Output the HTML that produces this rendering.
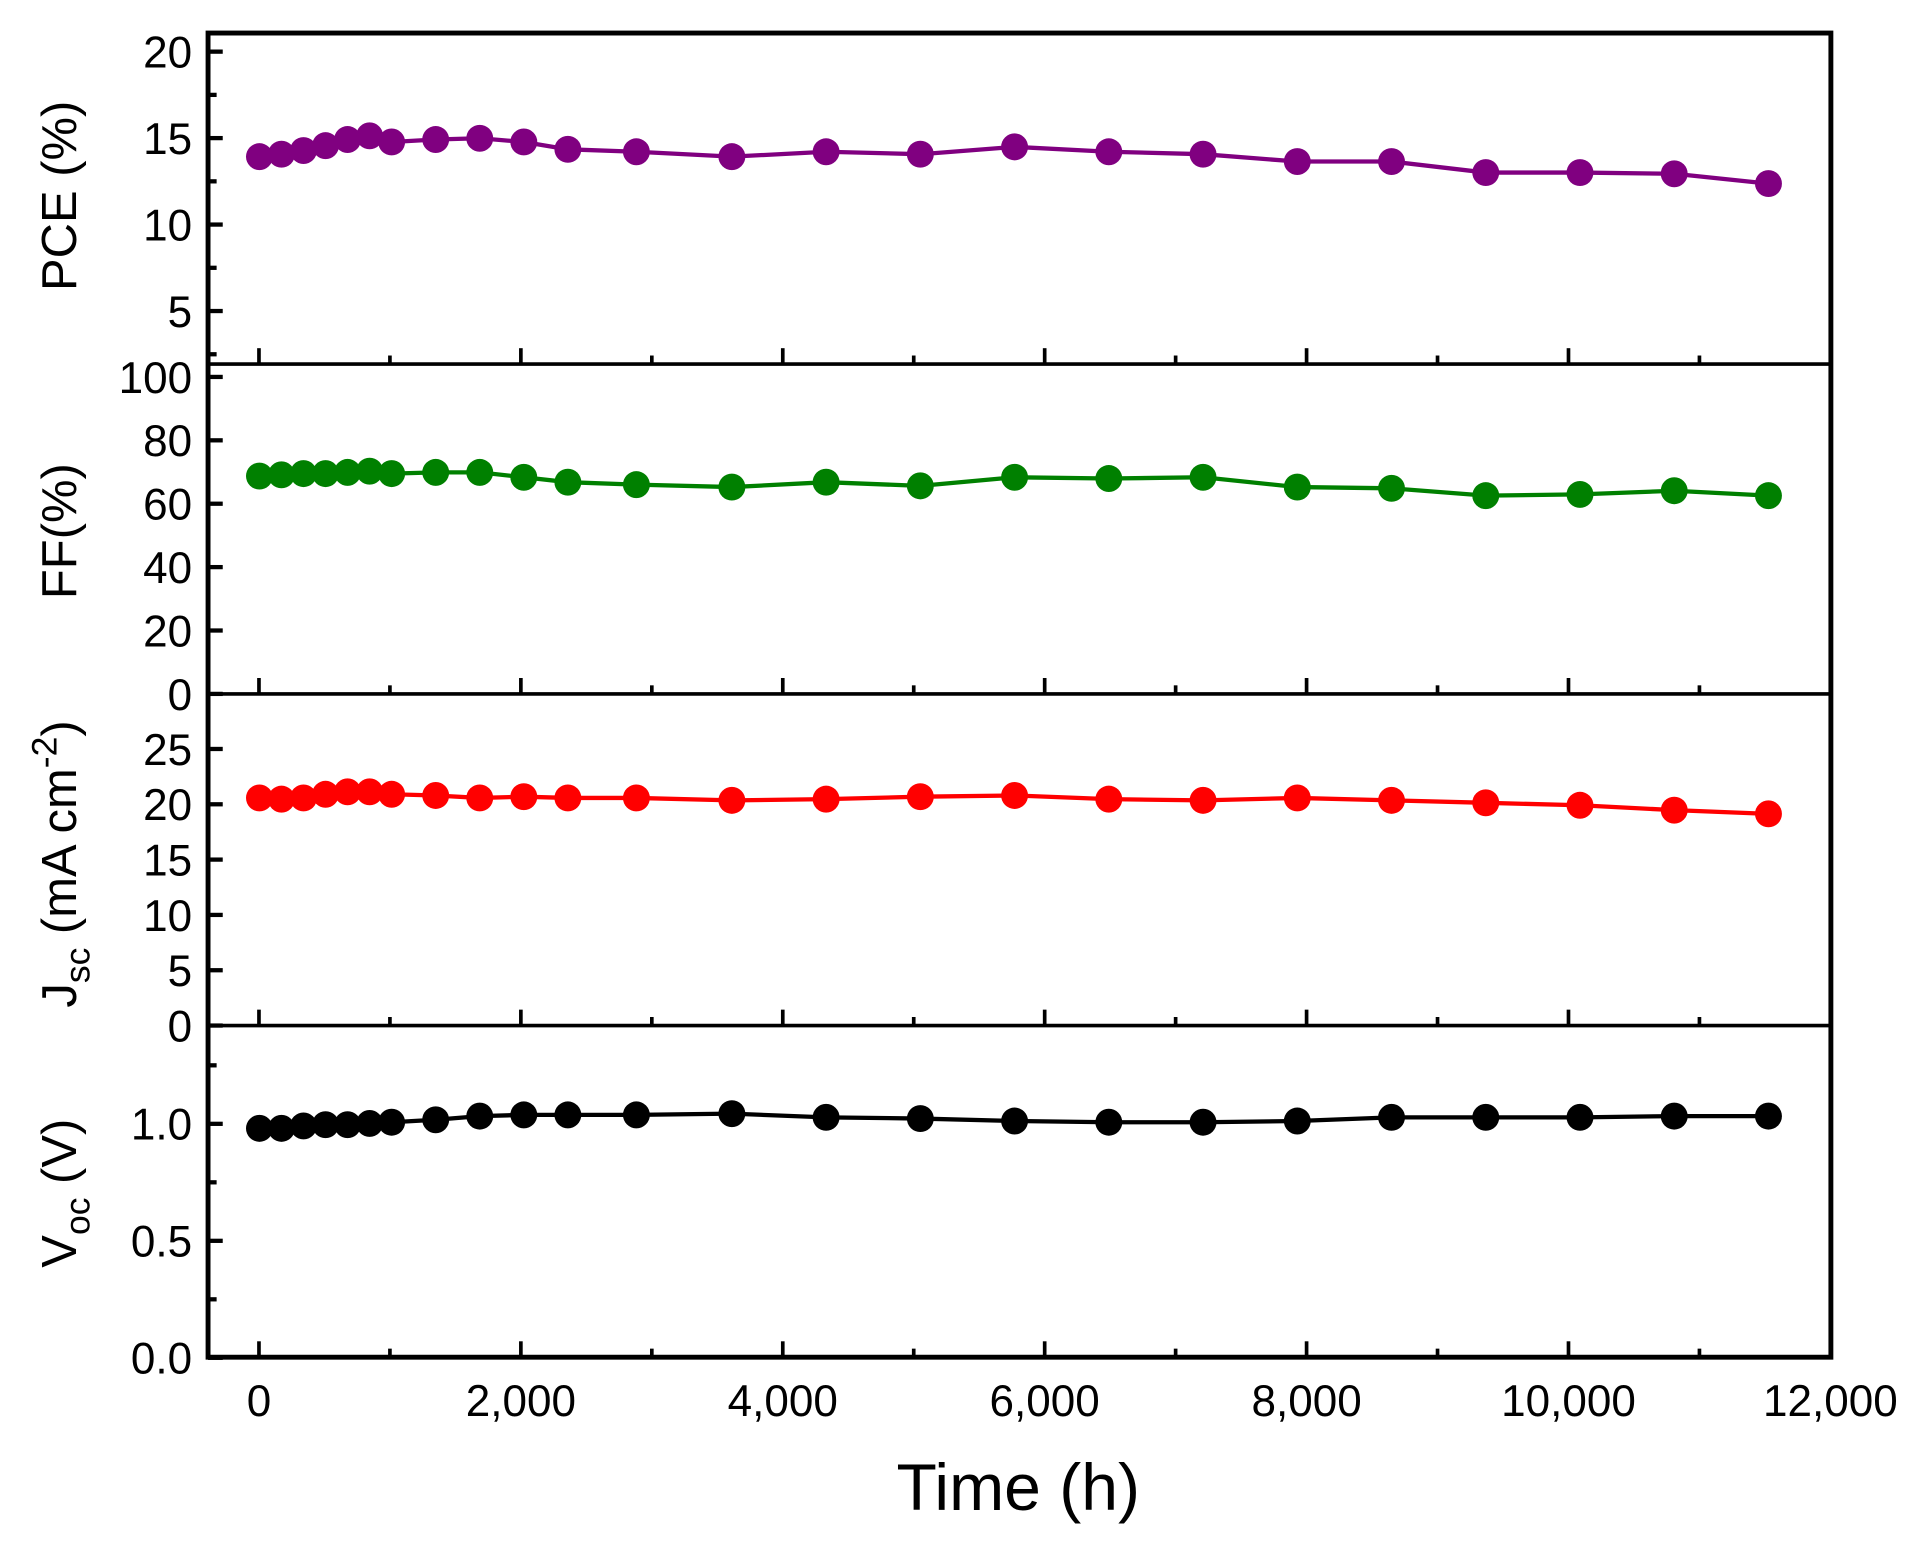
<!DOCTYPE html>
<html><head><meta charset="utf-8"><style>
html,body{margin:0;padding:0;background:#fff;}
svg{display:block;}
text{font-family:"Liberation Sans",Arial,sans-serif;fill:#000;}
</style></head><body>
<svg id="s" width="1919" height="1542" viewBox="0 0 1568 1260" preserveAspectRatio="none" xmlns="http://www.w3.org/2000/svg">
<rect width="1568" height="1260" fill="#fff"/>
<g id="g"></g>
<text x="832" y="1234" font-size="54" text-anchor="middle">Time (h)</text>
<text transform="translate(62,160) rotate(-90)" font-size="40" text-anchor="middle">PCE (%)</text>
<text transform="translate(62,434) rotate(-90)" font-size="40" text-anchor="middle">FF(%)</text>
<text transform="translate(62,706) rotate(-90)" font-size="40" text-anchor="middle">J<tspan font-size="29" dy="11">sc</tspan><tspan dy="-11"> (mA cm</tspan><tspan font-size="29" dy="-16">-2</tspan><tspan dy="16">)</tspan></text>
<text transform="translate(62,975) rotate(-90)" font-size="40" text-anchor="middle">V<tspan font-size="29" dy="11">oc</tspan><tspan dy="-11"> (V)</tspan></text>
</svg>
<script>
var NS="http://www.w3.org/2000/svg",g=document.getElementById('g');
function el(t,a,txt){var e=document.createElementNS(NS,t);for(var k in a)e.setAttribute(k,a[k]);if(txt!=null)e.textContent=txt;g.appendChild(e);return e;}
var L=170,R=1496,T=27,B=1109;
var bounds=[T,297.5,567,838,B];
function X(t){return 211.6+t*0.107;}
for(var p=1;p<5;p++){var yb=bounds[p];
 for(var t=0;t<=11000;t+=1000){var maj=t%2000==0;el('line',{x1:X(t),x2:X(t),y1:yb,y2:yb-(maj?13:7),stroke:'#000','stroke-width':3});}}
for(var t=0;t<=12000;t+=2000){el('text',{x:X(t),y:1157,'font-size':36,'text-anchor':'middle'},t==0?'0':(t/1000)+',000');}
function yt(y0,per,majors,minors,fmt){majors.forEach(function(v){var y=y0-v*per;el('line',{x1:L,x2:L+12,y1:y,y2:y,stroke:'#000','stroke-width':3.5});el('text',{x:L-13,y:y+13,'font-size':36,'text-anchor':'end'},fmt(v));});
 minors.forEach(function(v){var y=y0-v*per;el('line',{x1:L,x2:L+7,y1:y,y2:y,stroke:'#000','stroke-width':3.5});});}
var I=function(v){return ''+v;},F1=function(v){return v.toFixed(1);};
yt(42.2+20*14.13,14.13,[5,10,15,20],[2.5,7.5,12.5,17.5],I);
yt(567,2.59,[0,20,40,60,80,100],[],I);
yt(838,9.04,[0,5,10,15,20,25],[],I);
yt(1109.5,191.2,[0,0.5,1.0],[0.25,0.75,1.25],F1);
el('rect',{x:L,y:T,width:R-L,height:B-T,fill:'none',stroke:'#000','stroke-width':4});
[297.5,567,838].forEach(function(y){el('line',{x1:L,x2:R,y1:y,y2:y,stroke:'#000','stroke-width':3});});
var xs=[212,230,248,266,284,302,320,356,392,428,464,520,598,675,752,829,906,983,1060,1137,1214,1291,1368,1445];
var S=[
 ['#800080',[128,126,123,119,114,111,116,114,113,116,122,124,128,124,126,120,124,126,132,132,141,141,142,150]],
 ['#008000',[389,388,387,387,386,385,387,386,386,390,394,396,398,394,397,390,391,390,398,399,405,404,401,405]],
 ['#ff0000',[652,653,652,649,647,647,649,650,652,651,652,652,654,653,651,650,653,654,652,654,656,658,662,665]],
 ['#000000',[922,922,920,919,919,918,917,915,912,911,911,911,910,913,914,916,917,917,916,913,913,913,912,912]]];
S.forEach(function(s){var pts=xs.map(function(x,i){return x+','+s[1][i];}).join(' ');
 el('polyline',{points:pts,fill:'none',stroke:s[0],'stroke-width':3.5});
 xs.forEach(function(x,i){el('circle',{cx:x,cy:s[1][i],r:11,fill:s[0]});});});
</script>
</body></html>
